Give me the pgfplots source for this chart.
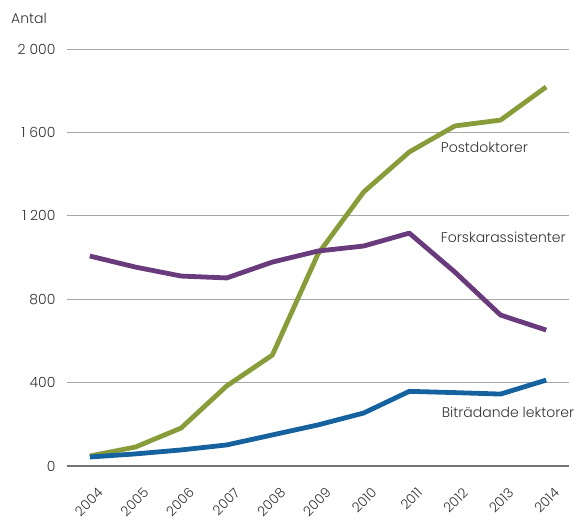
\documentclass[border=0pt]{standalone}
\usepackage{pgfplots}
\pgfplotsset{compat=1.18}
\usepackage{fontspec}
\setmainfont{Poppins}[UprightFont=* Light]
\definecolor{cgreen}{HTML}{889C3A}
\definecolor{cpurple}{HTML}{6A3B7C}
\definecolor{cblue}{HTML}{15629F}
\definecolor{ctext}{HTML}{333333}
\begin{document}
\begin{tikzpicture}
\begin{axis}[
  scale only axis, width=502pt, height=417pt,
  xmin=2003.5, xmax=2014.5, ymin=0, ymax=2000,
  axis x line=bottom, axis y line=left,
  axis line style={draw=none, -},
  clip=false,
  xtick={2004,...,2014},
  xticklabels={2004,2005,2006,2007,2008,2009,2010,2011,2012,2013,2014},
  ytick={0,400,...,2000},
  yticklabels={0,400,800,1 200,1 600,2 000},
  ymajorgrids, grid style={draw=gray!70, line width=0.8pt},
  major tick length=0pt,
  xticklabel style={xshift=13pt, yshift=-22pt, rotate=45, anchor=east, font=\fontsize{13.5}{16}\selectfont, text=ctext},
  yticklabel style={font=\fontsize{14}{16}\selectfont, text=ctext, anchor=east, xshift=-8pt},
]
\draw[draw=gray!90!black, line width=1.3pt] (axis cs:2003.5,0) -- (axis cs:2014.5,0);
\addplot[cgreen, line width=4.8pt, line join=round] coordinates {
(2004,48) (2005,91) (2006,182) (2007,384) (2008,532) (2009,1017) (2010,1314) (2011,1506) (2012,1631) (2013,1659) (2014,1818)};
\addplot[cpurple, line width=4.8pt, line join=round] coordinates {
(2004,1007) (2005,954) (2006,911) (2007,902) (2008,978) (2009,1031) (2010,1055) (2011,1117) (2012,930) (2013,724) (2014,652)};
\addplot[cblue, line width=4.8pt, line join=round] coordinates {
(2004,43) (2005,58) (2006,77) (2007,101) (2008,149) (2009,197) (2010,254) (2011,358) (2012,352) (2013,345) (2014,412)};
\node[anchor=west, text=ctext, font=\fontsize{14}{16}\selectfont, inner sep=0pt] at (axis cs:2011.69,1530) {Postdoktorer};
\node[anchor=west, text=ctext, font=\fontsize{14}{16}\selectfont, inner sep=0pt] at (axis cs:2011.69,1098) {Forskarassistenter};
\node[anchor=west, text=ctext, font=\fontsize{14}{16}\selectfont, inner sep=0pt] at (axis cs:2011.71,259) {Biträdande lektorer};
\node[anchor=west, text=ctext, font=\fontsize{14}{16}\selectfont, inner sep=0pt] at ([xshift=-56pt, yshift=31pt]axis cs:2003.5,2000) {Antal};
\end{axis}
\pgfresetboundingbox
\path[use as bounding box] ([xshift=-67pt, yshift=-54pt]current axis.south west) rectangle ([xshift=10pt, yshift=49pt]current axis.north east);
\end{tikzpicture}
\end{document}
